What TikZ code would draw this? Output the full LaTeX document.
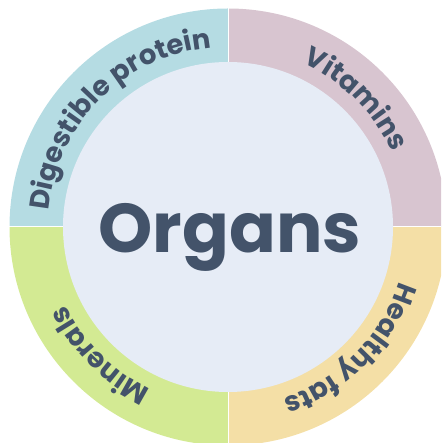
\documentclass[tikz,border=0pt]{standalone}
\usepackage{fontspec}
\setmainfont{Poppins}
\usetikzlibrary{decorations.text}
\definecolor{qblue}{HTML}{B5DCE3}
\definecolor{qmauve}{HTML}{D8C5D0}
\definecolor{qgreen}{HTML}{D3EA93}
\definecolor{qyellow}{HTML}{F4DFA6}
\definecolor{inner}{HTML}{E6ECF6}
\definecolor{tc}{HTML}{43536A}
\newcommand{\labfont}{\bfseries\fontsize{27.5}{27.5}\selectfont}
\tikzset{
  ringlabel/.style={decorate, decoration={text along path, text align=center, text color=tc, text={#1}}},
  divider/.style={white, line width=1pt}
}
\begin{document}
\begin{tikzpicture}[x=1pt,y=1pt]
\useasboundingbox (0,0) rectangle (441,443);
\clip (0,0) rectangle (441,443);
\begin{scope}[shift={(228,216)}]
  \def\Ro{218.5}
  \def\Ri{165}
  \def\Rb{180}
  \coordinate (c) at (0,0);
  \fill[qblue]   (c) -- (180:\Ro) arc (180:90:\Ro) -- cycle;
  \fill[qmauve]  (c) -- (90:\Ro) arc (90:0:\Ro) -- cycle;
  \fill[qyellow] (c) -- (0:\Ro) arc (0:-90:\Ro) -- cycle;
  \fill[qgreen]  (c) -- (-90:\Ro) arc (-90:-180:\Ro) -- cycle;
  \draw[divider] (-\Ro-2,0) -- (\Ro+2,0);
  \draw[divider] (0,-\Ro-2) -- (0,\Ro+2);
  \fill[inner] (c) circle (\Ri);
  \node[text=tc, font=\bfseries\fontsize{69}{69}\selectfont, anchor=base, inner sep=0pt] (title) at (2,-26) {Organs};
  \path[ringlabel={|\labfont|Digestible protein}] (180:\Rb) arc (180:90:\Rb);
  \path[ringlabel={|\labfont|Vitamins}] (90:\Rb) arc (90:0:\Rb);
  \path[ringlabel={|\labfont|Healthy fats}] (0:\Rb) arc (0:-90:\Rb);
  \path[ringlabel={|\labfont|Minerals}] (-90:\Rb) arc (-90:-180:\Rb);
\end{scope}
\end{tikzpicture}
\end{document}
